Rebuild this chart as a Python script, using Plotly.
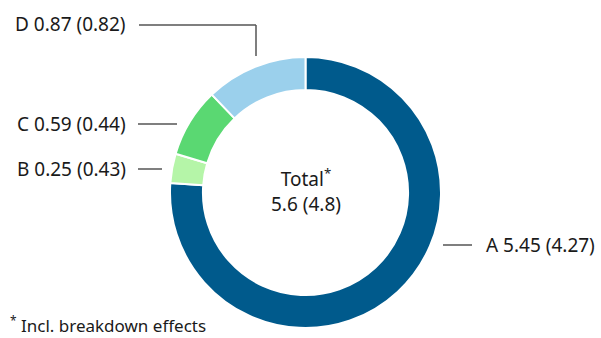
import plotly.graph_objects as go

labels = ["A", "B", "C", "D"]
values = [5.45, 0.25, 0.59, 0.87]
prev_values = [4.27, 0.43, 0.44, 0.82]
colors = ["#005A8C", "#B5F5A8", "#5AD872", "#9BD0EC"]
total = 5.6
total_prev = 4.8
footnote = "Incl. breakdown effects"

W, H = 601, 338
FONT = "Noto Sans"
TXT = "#1a1a1a"
LINE = "#555555"

def px(x):
    return x / W

def py(y):
    return 1 - y / H

fig = go.Figure()
fig.add_trace(go.Pie(
    labels=labels, values=values, hole=0.757, sort=False,
    direction="clockwise", rotation=0,
    marker=dict(colors=colors, line=dict(color="white", width=2)),
    textinfo="none", hoverinfo="label+value", showlegend=False,
    domain=dict(x=[px(170), px(441)], y=[py(328), py(57)]),
))

# label placements (px): (anchor x, y, xanchor)
label_pos = {
    "D": (128, 24, "right"),
    "C": (128, 124, "right"),
    "B": (128, 169, "right"),
    "A": (484, 245, "left"),
}
leaders = {
    "D": [(139, 25, 256, 25), (256, 25, 256, 56)],
    "C": [(138, 124, 177, 124)],
    "B": [(138, 169, 162, 169)],
    "A": [(443, 245, 472, 245)],
}

annotations = []
shapes = []
for lab, v, p in zip(labels, values, prev_values):
    x, y, xa = label_pos[lab]
    annotations.append(dict(
        x=px(x), y=py(y), xref="paper", yref="paper", showarrow=False,
        xanchor=xa, yanchor="middle", text=f"{lab} {v:.2f} ({p:.2f})",
        font=dict(family=FONT, size=19, color=TXT)))
    for (x0, y0, x1, y1) in leaders[lab]:
        shapes.append(dict(type="line", xref="paper", yref="paper",
                           x0=px(x0), y0=py(y0), x1=px(x1), y1=py(y1),
                           line=dict(color=LINE, width=1.5)))

annotations.append(dict(
    x=px(305.5), y=py(190), xref="paper", yref="paper", showarrow=False,
    xanchor="center", yanchor="middle",
    text=f"Total<sup>*</sup><br>{total} ({total_prev})",
    font=dict(family=FONT, size=19, color=TXT)))

annotations.append(dict(
    x=px(8), y=py(324), xref="paper", yref="paper", showarrow=False,
    xanchor="left", yanchor="middle",
    text=f"<sup>*</sup> {footnote}",
    font=dict(family=FONT, size=17, color=TXT)))

fig.update_layout(
    width=W, height=H, margin=dict(l=0, r=0, t=0, b=0),
    paper_bgcolor="white", plot_bgcolor="white",
    annotations=annotations, shapes=shapes,
)

fig.write_html("out.html")
